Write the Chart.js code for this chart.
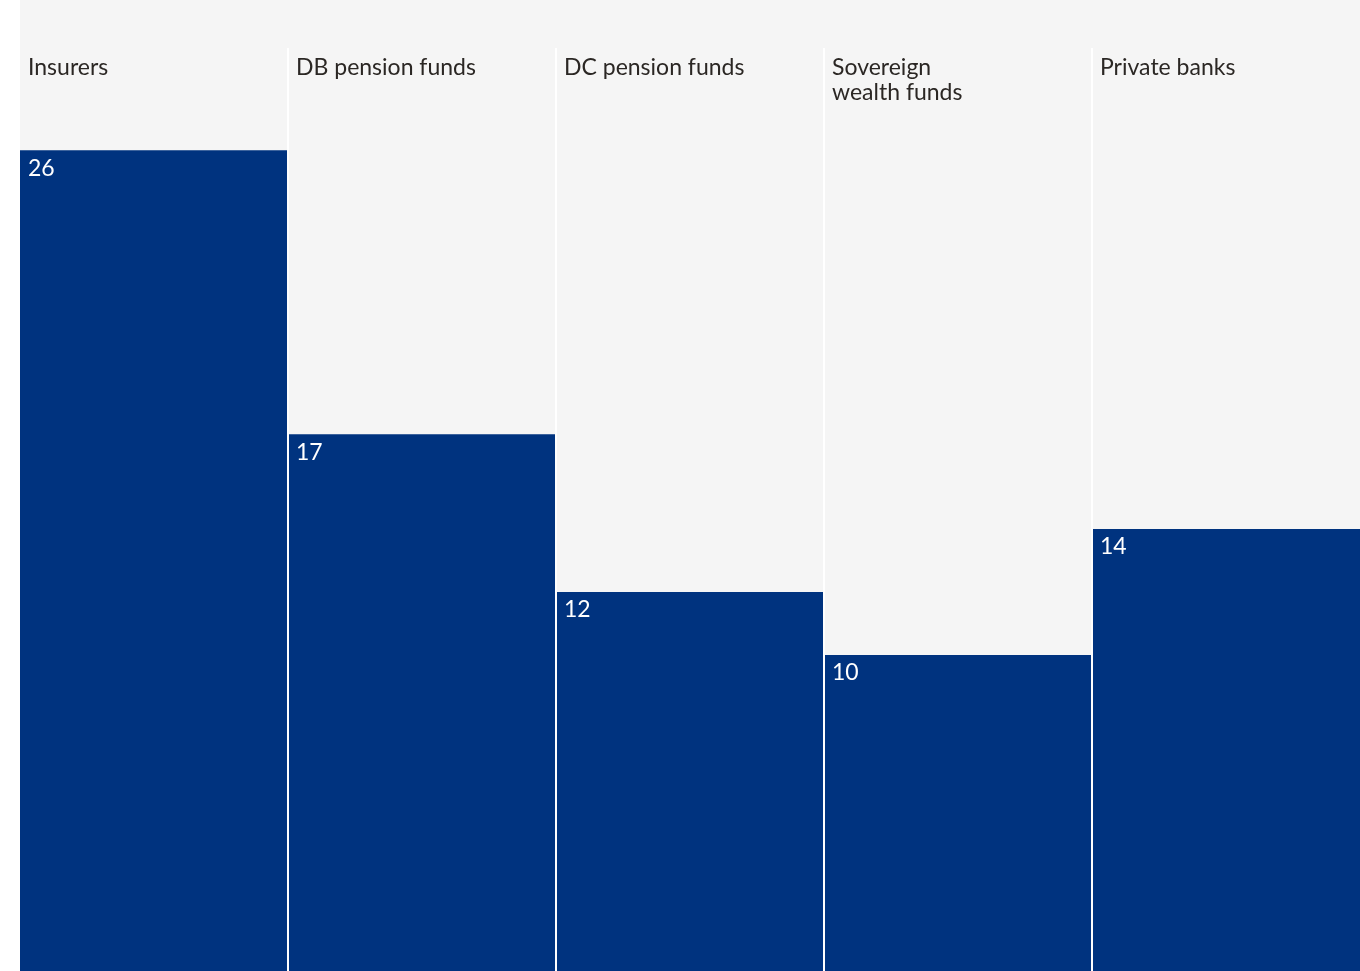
<!DOCTYPE html>
<html>
<head>
<meta charset="utf-8">
<script src="https://cdn.jsdelivr.net/npm/chart.js@4/dist/chart.umd.min.js"></script>
<style>
  html, body { margin: 0; padding: 0; background: #ffffff; }
  #wrap { width: 1360px; height: 971px; position: relative; }
</style>
</head>
<body>
<div id="wrap"><canvas id="chart"></canvas></div>
<script>
// Investor types and their shares
const categories = ['Insurers', 'DB pension funds', 'DC pension funds', 'Sovereign\nwealth funds', 'Private banks'];
const values = [26, 17, 12, 10, 14];

const BAR_COLOR = '#00337f';
const PANEL_COLOR = '#f5f5f5';
const FONT = 'Lato, "Noto Sans", sans-serif';

// Light panel behind the columns, white column dividers, and in-column text
const columnDecor = {
  id: 'columnDecor',
  beforeDraw(chart) {
    const { ctx, chartArea } = chart;
    ctx.save();
    ctx.fillStyle = PANEL_COLOR;
    ctx.fillRect(chartArea.left, 0, chartArea.right - chartArea.left, chartArea.bottom);
    ctx.restore();
  },
  afterDatasetsDraw(chart) {
    const { ctx, chartArea, scales } = chart;
    const x = scales.x, y = scales.y;
    const n = categories.length;
    const step = (chartArea.right - chartArea.left) / n;
    ctx.save();
    // dividers
    ctx.strokeStyle = '#ffffff';
    ctx.lineWidth = 2;
    for (let i = 1; i < n; i++) {
      const bx = Math.round(x.getPixelForValue(i) - step / 2);
      ctx.beginPath();
      ctx.moveTo(bx, chartArea.top);
      ctx.lineTo(bx, chartArea.bottom);
      ctx.stroke();
    }
    // category names at the top of each column
    ctx.font = '23px ' + FONT;
    ctx.fillStyle = '#2b2724';
    ctx.textAlign = 'left';
    ctx.textBaseline = 'alphabetic';
    categories.forEach((c, i) => {
      const left = x.getPixelForValue(i) - step / 2;
      c.split('\n').forEach((line, k) => {
        ctx.fillText(line, left + 8, 75 + k * 25);
      });
    });
    // values just inside the top of each bar
    ctx.fillStyle = '#ffffff';
    values.forEach((v, i) => {
      const left = x.getPixelForValue(i) - step / 2;
      ctx.fillText(String(v), left + 8, y.getPixelForValue(v) + 25);
    });
    ctx.restore();
  }
};

new Chart(document.getElementById('chart'), {
  type: 'bar',
  data: {
    labels: categories,
    datasets: [{
      data: values,
      backgroundColor: BAR_COLOR,
      borderWidth: 0,
      categoryPercentage: 1.0,
      barPercentage: 1.0
    }]
  },
  options: {
    responsive: true,
    maintainAspectRatio: false,
    animation: false,
    layout: { padding: { left: 20, right: 0, top: 48, bottom: 0 } },
    plugins: {
      legend: { display: false },
      tooltip: { enabled: false }
    },
    scales: {
      x: { display: false },
      y: { display: false, min: 0, max: 29.25 }
    }
  },
  plugins: [columnDecor]
});
</script>
</body>
</html>
